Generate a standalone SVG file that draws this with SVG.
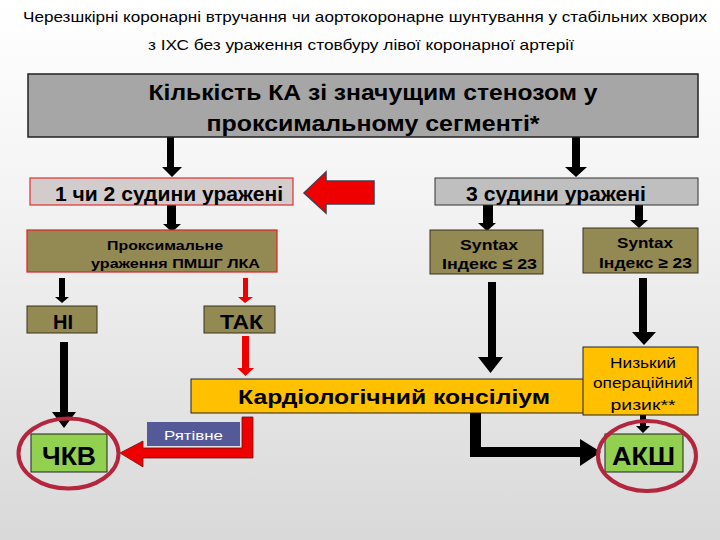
<svg xmlns="http://www.w3.org/2000/svg" width="720" height="540" viewBox="0 0 720 540">
<defs>
<linearGradient id="bg" x1="0" y1="0" x2="0" y2="1">
<stop offset="0" stop-color="#ffffff"/>
<stop offset="0.35" stop-color="#f4f4f4"/>
<stop offset="1" stop-color="#d9d9d9"/>
</linearGradient>
<style>
text{font-family:"Liberation Sans",Arial,sans-serif;font-weight:bold;fill:#000}
.title{font-weight:normal;font-size:15px}
.olive{fill:#938953;stroke:#3a3320;stroke-width:1}
.oliveR{fill:#938953;stroke:#e02020;stroke-width:1.2}
.yel{fill:#ffc000;stroke:#222;stroke-width:1}
.grn{fill:#92d050;stroke:#222;stroke-width:1}
.ring{fill:none;stroke:#b3263d;stroke-width:4}
.blk{fill:#000}
.red{fill:#ee0000}
</style>
</defs>
<rect x="0" y="0" width="720" height="540" fill="url(#bg)"/>

<g id="title">
<text class="title" x="365" y="22" text-anchor="middle" textLength="684" lengthAdjust="spacingAndGlyphs">Черезшкірні коронарні втручання чи аортокоронарне шунтування у  стабільних хворих</text>
<text class="title" x="361" y="50" text-anchor="middle" textLength="426" lengthAdjust="spacingAndGlyphs">з ІХС без ураження стовбуру лівої коронарної артерії</text>
</g>

<g id="connectors">
<!-- top arrows -->
<polygon class="blk" points="167,137 174,137 174,167 182,167 172,177 162,167 167,167"/>
<polygon class="blk" points="572,137 580,137 580,167 587,167 576,177 565,167 572,167"/>
<!-- 1-2 to proximal -->
<polygon class="blk" points="167,205 176,205 176,224 181,224 172,232 163,224 167,224"/>
<!-- 3 to syntax -->
<polygon class="blk" points="483,205 493,205 493,223 496,223 487,231 478,223 483,223"/>
<polygon class="blk" points="635,205 643,205 643,220 648,220 639,228 630,220 635,220"/>
<!-- proximal to NI / TAK -->
<polygon class="blk" points="59,278 65,278 65,297 69,297 62,303 55,297 59,297"/>
<polygon class="red" points="243,278 248,278 248,297 253,297 245,303 238,297 243,297"/>
<!-- NI to ЧКВ -->
<polygon class="blk" points="60,342 68,342 68,412 76,412 64,428 52,412 60,412"/>
<!-- TAK to consilium -->
<polygon class="red" points="242,336 249,336 249,368 254,368 245.5,376 237,368 242,368"/>
<!-- Syntax <=23 down -->
<polygon class="blk" points="488,282 496,282 496,357 503,357 490.5,373 478,357 488,357"/>
<!-- Syntax >=23 down -->
<polygon class="blk" points="639,278 647,278 647,332 656,332 644,345 632,332 639,332"/>
<!-- low risk to АКШ -->
<polygon class="blk" points="640,415 646,415 646,426 650,426 643,433 636,426 640,426"/>
<!-- black L to АКШ -->
<polygon class="blk" points="470,413 481,413 481,447 580,447 580,439 601,452 580,466 580,457 470,457"/>
<!-- red L to ЧКВ -->
<polygon class="red" stroke="#6a1010" stroke-width="0.8" points="242,417 253,417 253,458 143,458 143,467 120,453 143,441 143,448 242,448"/>
<!-- big red left arrow -->
<polygon class="red" stroke="#404050" stroke-width="1.5" points="374,181 326,181 326,172 304,193 326,213 326,204 374,204"/>
</g>

<g id="n-main">
<rect x="28" y="74" width="670" height="63" fill="#a6a6a6" stroke="#222" stroke-width="1.5"/>
<text x="373" y="100" font-size="22" text-anchor="middle" textLength="449" lengthAdjust="spacingAndGlyphs">Кількість КА зі значущим стенозом у</text>
<text x="373" y="131" font-size="22" text-anchor="middle" textLength="333" lengthAdjust="spacingAndGlyphs">проксимальному сегменті*</text>
</g>

<g id="n-12">
<rect x="30" y="178" width="263" height="27" fill="#d3cccc" stroke="#e03030" stroke-width="1.2"/>
<text x="55" y="201" font-size="20" textLength="228" lengthAdjust="spacingAndGlyphs">1 чи 2 судини уражені</text>
</g>

<g id="n-3">
<rect x="435" y="178" width="263" height="27" fill="#bfbfbf" stroke="#333" stroke-width="1"/>
<text x="466" y="201" font-size="20" textLength="180" lengthAdjust="spacingAndGlyphs">3 судини уражені</text>
</g>

<g id="n-prox">
<rect x="27" y="230" width="250" height="42" class="oliveR"/>
<text x="107" y="250" font-size="13.5" textLength="116" lengthAdjust="spacingAndGlyphs">Проксимальне</text>
<text x="91" y="268" font-size="13.5" textLength="169" lengthAdjust="spacingAndGlyphs">ураження  ПМШГ ЛКА</text>
</g>

<g id="n-syn1">
<rect x="430" y="230" width="113" height="44" class="olive"/>
<text x="489" y="250" font-size="15" text-anchor="middle" textLength="58" lengthAdjust="spacingAndGlyphs">Syntax</text>
<text x="489.5" y="269" font-size="15" text-anchor="middle" textLength="95" lengthAdjust="spacingAndGlyphs">Індекс ≤ 23</text>
</g>

<g id="n-syn2">
<rect x="583" y="228" width="115" height="45" class="olive"/>
<text x="645" y="248" font-size="15" text-anchor="middle" textLength="56" lengthAdjust="spacingAndGlyphs">Syntax</text>
<text x="645.5" y="268" font-size="15" text-anchor="middle" textLength="93" lengthAdjust="spacingAndGlyphs">Індекс ≥ 23</text>
</g>

<g id="n-ni">
<rect x="27" y="306" width="70" height="27" class="olive"/>
<text x="63" y="329" font-size="20" text-anchor="middle">НІ</text>
</g>

<g id="n-tak">
<rect x="204" y="306" width="71" height="27" class="olive"/>
<text x="241.5" y="329" font-size="20" text-anchor="middle" textLength="43" lengthAdjust="spacingAndGlyphs">ТАК</text>
</g>

<g id="n-cons">
<rect x="191" y="379" width="394" height="34" class="yel"/>
<text x="238" y="404" font-size="20" textLength="312" lengthAdjust="spacingAndGlyphs">Кардіологічний консіліум</text>
</g>

<g id="n-risk">
<rect x="583" y="347" width="115" height="68" class="yel"/>
<text x="643" y="368" font-size="14" font-weight="normal" text-anchor="middle" textLength="66" lengthAdjust="spacingAndGlyphs" style="font-weight:normal">Низький</text>
<text x="643" y="388" font-size="14" text-anchor="middle" textLength="100" lengthAdjust="spacingAndGlyphs" style="font-weight:normal">операційний</text>
<text x="643" y="410" font-size="14" text-anchor="middle" textLength="65" lengthAdjust="spacingAndGlyphs" style="font-weight:normal">ризик**</text>
</g>

<g id="n-ryat">
<rect x="147" y="422" width="93" height="24" fill="#545a98"/>
<text x="193.5" y="440" font-size="13" text-anchor="middle" style="fill:#fff;font-weight:normal" textLength="59" lengthAdjust="spacingAndGlyphs">Рятівне</text>
</g>

<g id="n-chkv">
<rect x="31" y="434" width="76" height="38" class="grn"/>
<text x="69" y="465" font-size="26" text-anchor="middle" textLength="54" lengthAdjust="spacingAndGlyphs">ЧКВ</text>
<ellipse cx="68.5" cy="453.5" rx="50" ry="35" class="ring"/>
</g>

<g id="n-aksh">
<rect x="605" y="434" width="78" height="38" class="grn"/>
<text x="643.5" y="465" font-size="26" text-anchor="middle" textLength="63" lengthAdjust="spacingAndGlyphs">АКШ</text>
<ellipse cx="647" cy="456" rx="49" ry="35" class="ring"/>
</g>
</svg>
